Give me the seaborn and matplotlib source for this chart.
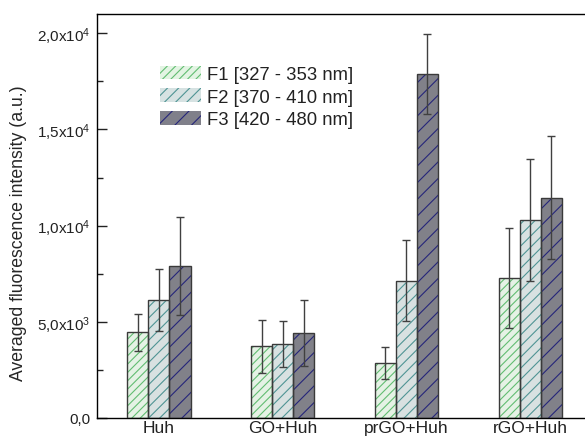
import pandas as pd
import seaborn as sns
import matplotlib.pyplot as plt
from matplotlib.patches import Rectangle

# dane
groups = ['Huh', 'GO+Huh', 'prGO+Huh', 'rGO+Huh']
filters = ['F1 [327 - 353 nm]', 'F2 [370 - 410 nm]', 'F3 [420 - 480 nm]']
f1_mean = [4450, 3720, 2840, 7270]
f2_mean = [6130, 3840, 7130, 10270]
f3_mean = [7900, 4420, 17900, 11460]
f1_err = [950, 1370, 830, 2610]
f2_err = [1600, 1180, 2100, 3170]
f3_err = [2560, 1700, 2080, 3180]
yticks = [0, 5000, 10000, 15000, 20000]
ytick_labels = ['0,0', r'5,0x10$^3$', r'1,0x10$^4$', r'1,5x10$^4$', r'2,0x10$^4$']

face_cols = ['#e3f4e3', '#d6e2e2', '#80808a']
hatch_cols = ['#62bd72', '#4f9494', '#26267a']
hatches = ['////', '///', '//']

means = [f1_mean, f2_mean, f3_mean]
errs = [f1_err, f2_err, f3_err]
df = pd.DataFrame({
    'grupa': groups * 3,
    'filtr': [f for f in filters for _ in groups],
    'wartosc': f1_mean + f2_mean + f3_mean,
})

sns.set_style('white')
plt.rcParams['font.family'] = ['Liberation Sans', 'DejaVu Sans']
plt.rcParams['mathtext.fontset'] = 'custom'
plt.rcParams['mathtext.rm'] = 'Liberation Sans'
plt.rcParams['mathtext.it'] = 'Liberation Sans'
plt.rcParams['hatch.linewidth'] = 0.8
plt.rcParams['text.color'] = '#222222'
plt.rcParams['xtick.color'] = '#222222'
plt.rcParams['ytick.color'] = '#222222'

fig = plt.figure(figsize=(5.85, 4.39), dpi=100)
ax = fig.add_axes([0.166, 0.0456, 0.846, 0.9202])

sns.barplot(data=df, x='grupa', y='wartosc', hue='filtr', order=groups,
            hue_order=filters, palette=face_cols, errorbar=None,
            width=0.51, gap=0, ax=ax, legend=False)

bar_conts = list(ax.containers)
handles = []
for i, cont in enumerate(bar_conts):
    for j, p in enumerate(cont.patches):
        p.set_hatch(hatches[i])
        p.set_edgecolor(hatch_cols[i])
        p.set_linewidth(0)
        ax.add_patch(Rectangle(p.get_xy(), p.get_width(), p.get_height(),
                               fill=False, edgecolor='#3a3a3a', lw=1, zorder=3))
        ax.errorbar(p.get_x() + p.get_width() / 2, means[i][j], yerr=errs[i][j],
                    fmt='none', ecolor='#404040', elinewidth=1, capsize=3,
                    capthick=1, zorder=4)
    h = Rectangle((0, 0), 1, 1, facecolor=face_cols[i], edgecolor=hatch_cols[i],
                  hatch=hatches[i], lw=0)
    handles.append(h)

leg = ax.legend(handles, filters, loc='upper left', bbox_to_anchor=(0.128, 0.872),
                frameon=False, fontsize=13.3, handlelength=2.2, handleheight=0.75,
                labelspacing=0.3, handletextpad=0.3, borderpad=0, borderaxespad=0)

ax.set_xlim(-0.5, 3.5)
ax.set_ylim(0, 21000)
ax.set_yticks(yticks)
ax.set_yticklabels(ytick_labels, fontsize=11)
ax.set_yticks([2500, 7500, 12500, 17500], minor=True)
ax.tick_params(axis='y', which='major', direction='in', length=7, width=1, left=True, pad=5)
ax.tick_params(axis='y', which='minor', direction='in', length=4, width=1, left=True)
ax.tick_params(axis='x', length=0, labelsize=12.5, pad=1.5)
ax.set_xlabel('')
ax.set_ylabel('Averaged fluorescence intensity (a.u.)', fontsize=12.7)
ax.yaxis.set_label_coords(-0.142, 0.46)
for s in ax.spines.values():
    s.set_color('black')
    s.set_linewidth(1)

fig.savefig('out.png', dpi=100)
